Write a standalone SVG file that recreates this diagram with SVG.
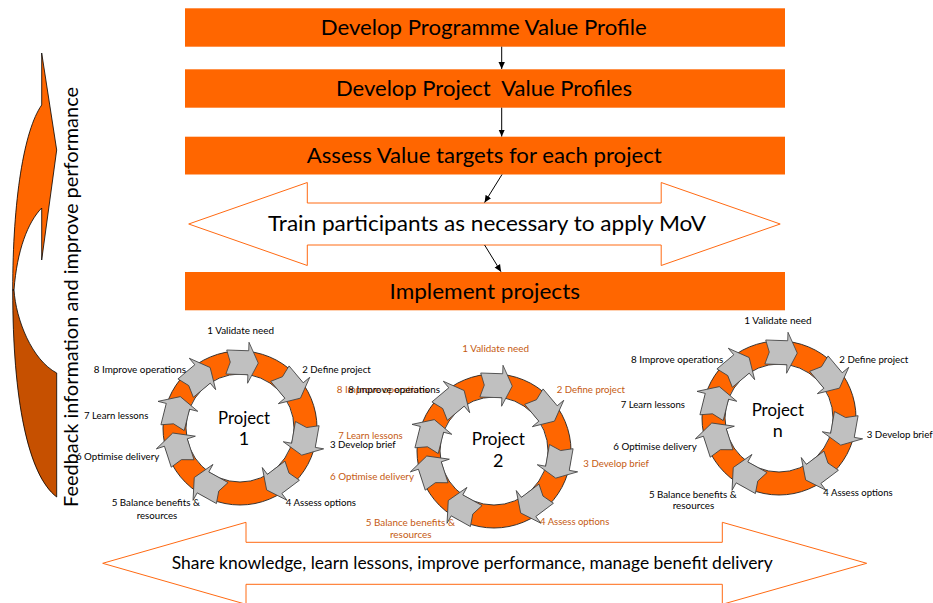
<svg xmlns="http://www.w3.org/2000/svg" xmlns:xlink="http://www.w3.org/1999/xlink" width="933" height="603" viewBox="0 0 933 603">
<style>
.box{fill:#FF6600}
.t{font-family:Lato,"Liberation Sans",sans-serif;fill:#000}
.big{font-size:21px}
.mid{font-size:19px}
.proj{font-size:18px}
.lbl{font-size:10px}
.or{fill:#C55A11}
.dbl{fill:#FFFFFF;stroke:#FF6A13;stroke-width:1}
.ring{fill:none;stroke:#FF6600;stroke-width:23}
.edge{fill:none;stroke:#222;stroke-width:0.9}
.garr{fill:#C0C0C0;stroke:#404040;stroke-width:0.8;stroke-linejoin:miter}
.con{stroke:#000;stroke-width:1;fill:none}
</style>
<defs>
<marker id="ah" markerWidth="8" markerHeight="8" refX="7" refY="4" orient="auto" markerUnits="userSpaceOnUse"><path d="M0,0.8 L7,4 L0,7.2 Z" fill="#000"/></marker>
<path id="ga" class="garr" d="M-16,-12 L-12,0 L-16,12 L6,12 L6,20.5 L16,0 L6,-20.5 L6,-12 Z"/>
<g id="cyc">
<circle r="65.5" class="ring"/>
<circle r="77" class="edge"/>
<circle r="54" class="edge"/>
<use xlink:href="#ga" href="#ga" transform="rotate(272) translate(65.5,0) rotate(90)"/>
<use xlink:href="#ga" href="#ga" transform="rotate(320) translate(65.5,0) rotate(90)"/>
<use xlink:href="#ga" href="#ga" transform="rotate(10) translate(65.5,0) rotate(90)"/>
<use xlink:href="#ga" href="#ga" transform="rotate(53) translate(65.5,0) rotate(90)"/>
<use xlink:href="#ga" href="#ga" transform="rotate(119) translate(65.5,0) rotate(90)"/>
<use xlink:href="#ga" href="#ga" transform="rotate(162) translate(65.5,0) rotate(90)"/>
<use xlink:href="#ga" href="#ga" transform="rotate(194) translate(65.5,0) rotate(90)"/>
<use xlink:href="#ga" href="#ga" transform="rotate(230) translate(65.5,0) rotate(90)"/>
</g>
</defs>

<g id="feedback">
<path d="M41.7,105 L41.7,53 L56.7,150 L41.7,260 L41.7,208 C28,222 17,250 14,290 L12.7,290 C12.7,200 24,130 41.7,105 Z" fill="#FF6600" stroke="#000" stroke-width="0.8"/>
<path d="M12.7,290 C12.7,400 28,475 56.7,497 L56.7,373 C32,360 16,320 14,290 Z" fill="#C65000" stroke="#000" stroke-width="0.8"/>
<text class="t mid" transform="translate(78,297) rotate(-90)" text-anchor="middle" textLength="420" lengthAdjust="spacingAndGlyphs">Feedback information and improve performance</text>
</g>

<g id="box1">
<rect class="box" x="185" y="8.3" width="600" height="38.4"/>
<text class="t big" x="320.7" y="35" textLength="326" lengthAdjust="spacingAndGlyphs">Develop Programme Value Profile</text>
</g>
<g id="box2">
<rect class="box" x="185" y="69.3" width="600" height="38.4"/>
<text class="t big" x="336" y="95.7" textLength="296" lengthAdjust="spacingAndGlyphs" xml:space="preserve" style="white-space:pre">Develop Project  Value Profiles</text>
</g>
<g id="box3">
<rect class="box" x="185" y="136.7" width="600" height="37.8"/>
<text class="t big" x="306.7" y="162.7" textLength="355" lengthAdjust="spacingAndGlyphs">Assess Value targets for each project</text>
</g>
<g id="train">
<path class="dbl" d="M188.7,224 L307.3,182.5 L307.3,203 L661.2,203 L661.2,182.5 L780.2,224 L661.2,265.5 L661.2,245 L307.3,245 L307.3,265.5 Z"/>
<text class="t big" x="268" y="231" textLength="438" lengthAdjust="spacingAndGlyphs">Train participants as necessary to apply MoV</text>
</g>
<g id="implement">
<rect class="box" x="185" y="272" width="600" height="38.3"/>
<text class="t big" x="389.5" y="298.5" textLength="190.5" lengthAdjust="spacingAndGlyphs">Implement projects</text>
</g>
<g id="share">
<path class="dbl" d="M102.7,563.3 L246,522.3 L246,542.3 L722.3,542.3 L722.3,522.3 L866.7,563.3 L722.3,604.3 L722.3,584.3 L246,584.3 L246,604.3 Z"/>
<text class="t" style="font-size:17px" x="171.7" y="569" textLength="601" lengthAdjust="spacingAndGlyphs">Share knowledge, learn lessons, improve performance, manage benefit delivery</text>
</g>

<g id="connectors">
<line class="con" x1="501.7" y1="46.7" x2="501.7" y2="69" marker-end="url(#ah)"/>
<line class="con" x1="501.7" y1="107.7" x2="501.7" y2="136.5" marker-end="url(#ah)"/>
<line class="con" x1="502" y1="174.5" x2="484.6" y2="202.5" marker-end="url(#ah)"/>
<line class="con" x1="484.6" y1="245" x2="501" y2="271.7" marker-end="url(#ah)"/>
</g>

<g id="project1">
<use xlink:href="#cyc" href="#cyc" transform="translate(240,428)"/>
<text class="t proj" x="244" y="424" text-anchor="middle" textLength="52" lengthAdjust="spacingAndGlyphs">Project</text>
<text class="t proj" x="244" y="445.3" text-anchor="middle">1</text>
<g class="t lbl">
<text x="207.3" y="333.5" textLength="66.7" lengthAdjust="spacingAndGlyphs">1 Validate need</text>
<text x="302.3" y="372.5" textLength="68.4" lengthAdjust="spacingAndGlyphs">2 Define project</text>
<text x="330" y="447.5" textLength="65.7" lengthAdjust="spacingAndGlyphs">3 Develop brief</text>
<text x="285.7" y="506" textLength="70.3" lengthAdjust="spacingAndGlyphs">4 Assess options</text>
<text x="155.8" y="506" text-anchor="middle" textLength="88.3" lengthAdjust="spacingAndGlyphs">5 Balance benefits &amp;</text>
<text x="157" y="519" text-anchor="middle" textLength="40.6" lengthAdjust="spacingAndGlyphs">resources</text>
<text x="75.9" y="460" textLength="83.4" lengthAdjust="spacingAndGlyphs">6 Optimise delivery</text>
<text x="84" y="418.5" textLength="64.3" lengthAdjust="spacingAndGlyphs">7 Learn lessons</text>
<text x="93.7" y="372.5" textLength="92.3" lengthAdjust="spacingAndGlyphs">8 Improve operations</text>
</g>
</g>

<g id="project2">
<use xlink:href="#cyc" href="#cyc" transform="translate(494,451)"/>
<text class="t proj" x="498.3" y="445" text-anchor="middle" textLength="53" lengthAdjust="spacingAndGlyphs">Project</text>
<text class="t proj" x="498.3" y="466.7" text-anchor="middle">2</text>
<g class="t lbl">
<text class="or" x="462.3" y="351.8" textLength="66.7" lengthAdjust="spacingAndGlyphs">1 Validate need</text>
<text class="or" x="556.7" y="392.5" textLength="68.3" lengthAdjust="spacingAndGlyphs">2 Define project</text>
<text class="or" x="583.3" y="466.8" textLength="65.7" lengthAdjust="spacingAndGlyphs">3 Develop brief</text>
<text class="or" x="540" y="525.2" textLength="69.3" lengthAdjust="spacingAndGlyphs">4 Assess options</text>
<text class="or" x="410.3" y="526.2" text-anchor="middle" textLength="89.3" lengthAdjust="spacingAndGlyphs">5 Balance benefits &amp;</text>
<text class="or" x="410.8" y="538" text-anchor="middle" textLength="41.7" lengthAdjust="spacingAndGlyphs">resources</text>
<text class="or" x="330" y="480.2" textLength="84" lengthAdjust="spacingAndGlyphs">6 Optimise delivery</text>
<text class="or" x="338.3" y="438.5" textLength="64.4" lengthAdjust="spacingAndGlyphs">7 Learn lessons</text>
<text class="or" x="336.7" y="392.5" textLength="92.3" lengthAdjust="spacingAndGlyphs">8 Improve operations</text>
<text x="348.3" y="392.5" textLength="91.7" lengthAdjust="spacingAndGlyphs">8 Improve operations</text>
</g>
</g>

<g id="projectn">
<use xlink:href="#cyc" href="#cyc" transform="translate(779,418)"/>
<text class="t proj" x="777.8" y="416" text-anchor="middle" textLength="52.3" lengthAdjust="spacingAndGlyphs">Project</text>
<text class="t proj" x="777.8" y="436.7" text-anchor="middle">n</text>
<g class="t lbl">
<text x="744.3" y="323.5" textLength="67.4" lengthAdjust="spacingAndGlyphs">1 Validate need</text>
<text x="839.3" y="362.5" textLength="69" lengthAdjust="spacingAndGlyphs">2 Define project</text>
<text x="866.7" y="437.8" textLength="66" lengthAdjust="spacingAndGlyphs">3 Develop brief</text>
<text x="823.3" y="496.2" textLength="69.4" lengthAdjust="spacingAndGlyphs">4 Assess options</text>
<text x="692.8" y="497.5" text-anchor="middle" textLength="87.7" lengthAdjust="spacingAndGlyphs">5 Balance benefits &amp;</text>
<text x="693.5" y="509.2" text-anchor="middle" textLength="41.6" lengthAdjust="spacingAndGlyphs">resources</text>
<text x="613.3" y="450.2" textLength="83.4" lengthAdjust="spacingAndGlyphs">6 Optimise delivery</text>
<text x="620.7" y="407.8" textLength="64.3" lengthAdjust="spacingAndGlyphs">7 Learn lessons</text>
<text x="631" y="362.5" textLength="92.3" lengthAdjust="spacingAndGlyphs">8 Improve operations</text>
</g>
</g>
</svg>
